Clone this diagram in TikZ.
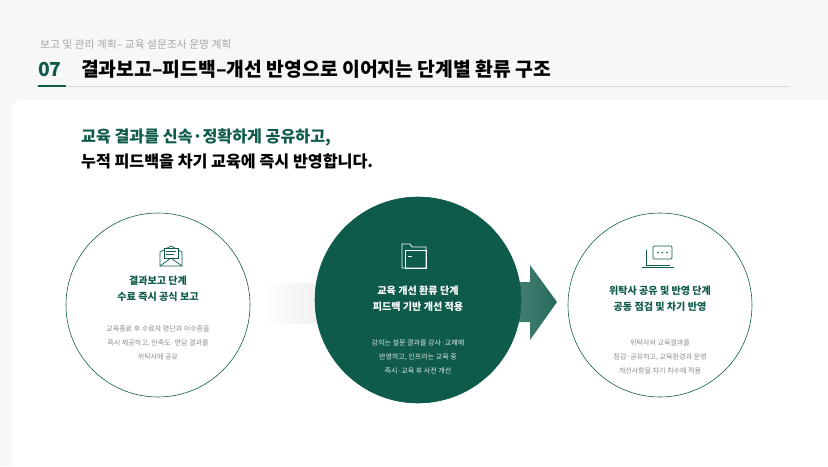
\documentclass[tikz,border=0pt]{standalone}
\usepackage{fontspec}
\setmainfont{Noto Sans CJK KR}
\usetikzlibrary{arrows.meta}
\definecolor{deep}{HTML}{0F5B4B}
\definecolor{soft}{HTML}{8A8A8A}
\tikzset{
  stage/.style={circle, draw=deep, line width=0.5pt, fill=white, minimum size=184*0.03cm},
  headline/.style={font=\bfseries\fontsize{8.6}{14}\selectfont, align=center, text=deep},
  body/.style={font=\fontsize{6}{12}\selectfont, align=center, text=soft},
  icon/.style={draw=deep, line width=0.6pt}
}
\begin{document}
\begin{tikzpicture}[x=0.03cm, y=-0.03cm]
        \fill[gray!6] (0,0) rectangle (828,466);
        \useasboundingbox (0,0) rectangle (828,466);
        \fill[white, rounded corners=8pt] (12,100) rectangle (840,480);
        % header
        \node[anchor=west, font=\fontsize{9.2}{11}\selectfont, text=gray!70] (crumb) at (36,44) {보고 및 관리 계획– 교육 설문조사 운영 계획};
        \node[anchor=west, font=\bfseries\fontsize{16.5}{18}\selectfont, text=deep] (num) at (34,69) {07};
        \node[anchor=west, font=\bfseries\fontsize{16.5}{18}\selectfont] (title) at (77,69) {결과보고–피드백–개선 반영으로 이어지는 단계별 환류 구조};
        \draw[gray!30, line width=0.5pt] (36,86) -- (790,86);
        \draw[deep, line width=2pt] (38,86) -- (66,86);
        \node[anchor=west, font=\bfseries\fontsize{13.8}{16}\selectfont, text=deep] (lead1) at (77,137) {교육 결과를 신속·정확하게 공유하고,};
        \node[anchor=west, font=\bfseries\fontsize{13.8}{16}\selectfont] (lead2) at (77,161) {누적 피드백을 차기 교육에 즉시 반영합니다.};
        % connectors
        \shade[left color=white, right color=gray!15] (262,283) rectangle (335,323);
        \shade[left color=deep!75, right color=deep!90] (505,282) -- (530,282) -- (530,265) -- (557,302) -- (530,340) -- (530,322) -- (505,322) -- cycle;
        % stages
        \node[stage] (report) at (158,305) {};
        \node[stage, fill=deep, minimum size=206*0.03cm] (improve) at (418,300) {};
        \node[stage] (share) at (660,305) {};
        \node[headline] at (158,289) {결과보고 단계\\수료 즉시 공식 보고};
        \node[body] at (158,343) {교육종료 후 수료자 명단과 이수증을\\즉시 제공하고, 만족도·면담 결과를\\위탁사에 공유};
        \node[headline, text=white] at (418,299) {교육 개선 환류 단계\\피드백 기반 개선 적용};
        \node[body, text=white!85!deep] at (418,357) {강의는 설문 결과를 강사·교재에\\반영하고, 인프라는 교육 중\\즉시·교육 후 사전 개선};
        \node[headline] at (660,299) {위탁사 공유 및 반영 단계\\공동 점검 및 차기 반영};
        \node[body] at (660,357) {위탁사와 교육결과를\\점검·공유하고, 교육환경과 운영\\개선사항을 차기 차수에 적용};
        % icons
        \draw[icon] (160,252) -- (160,266) -- (182,266) -- (182,252) -- (171,246) -- cycle;
        \draw[icon] (160,266) -- (171,258) -- (182,266);
        \draw[icon, fill=white] (164,248) rectangle (178,258);
        \draw[icon] (166,251) -- (176,251) (166,254) -- (174,254);
        \draw[icon, draw=white] (402,253) -- (402,244) -- (410,244) -- (412,247) -- (426,247) -- (426,268) -- (402,268) -- cycle;
        \draw[icon, draw=white] (405,250) rectangle (426,268);
        \draw[icon, draw=white] (408,256) -- (412,256);
        \draw[icon] (646,250) -- (646,265) -- (670,265);
        \draw[icon] (642,267) -- (674,267);
        \draw[icon, fill=white, rounded corners=1pt] (653,246) rectangle (672,259);
        \fill[deep] (658,252.5) circle (0.9) (662.5,252.5) circle (0.9) (667,252.5) circle (0.9);
\end{tikzpicture}
\end{document}
